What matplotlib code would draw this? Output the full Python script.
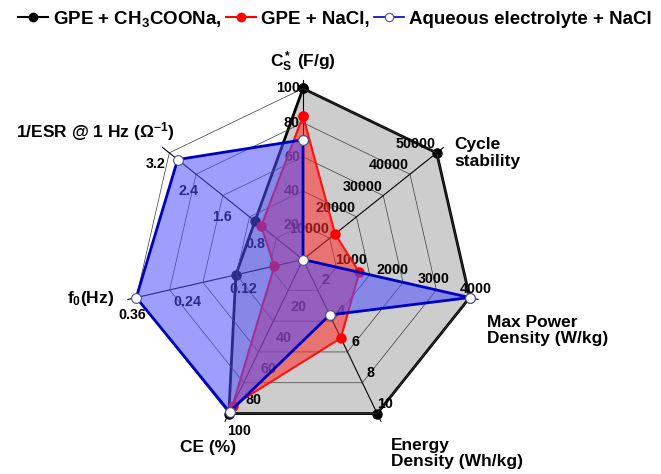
import numpy as np
import matplotlib as mpl
mpl.use('Agg')
import matplotlib.pyplot as plt
from matplotlib.lines import Line2D

plt.rcParams['font.family'] = ['Liberation Sans', 'DejaVu Sans']
plt.rcParams['font.weight'] = 'bold'
plt.rcParams['mathtext.fontset'] = 'custom'
plt.rcParams['mathtext.rm'] = 'Liberation Sans:bold'
plt.rcParams['mathtext.bf'] = 'Liberation Sans:bold'
plt.rcParams['mathtext.it'] = 'Liberation Sans:bold'
plt.rcParams['mathtext.default'] = 'bf'

# axes of the radar, clockwise from the top
axis_names = ['C$_S^*$ (F/g)', 'Cycle\nstability', 'Max Power\nDensity (W/kg)',
              'Energy\nDensity (Wh/kg)', 'CE (%)', 'f$_0$(Hz)',
              '1/ESR @ 1 Hz ($\\Omega^{-1}$)']
axis_max = [100, 50000, 4000, 10, 100, 0.36, 3.2]
axis_ticks = [[20, 40, 60, 80, 100],
              [10000, 20000, 30000, 40000, 50000],
              [1000, 2000, 3000, 4000],
              [2, 4, 6, 8, 10],
              [20, 40, 60, 80, 100],
              [0.12, 0.24, 0.36],
              [0.8, 1.6, 2.4, 3.2]]

gpe_acetate = [100, 50000, 4000, 10, 100, 0.145, 1.15]
gpe_nacl = [84, 12000, 1350, 5.1, 95, 0.062, 1.0]
aqueous_nacl = [70, 0, 4000, 3.6, 99, 0.36, 3.0]

labels = ['GPE + CH$_3$COONa,', 'GPE + NaCl,', 'Aqueous electrolyte + NaCl']

n = len(axis_names)
ang = np.deg2rad(90 - np.arange(n) * 360.0 / n)
cx, cy = np.cos(ang), np.sin(ang)


def to_xy(vals):
    f = np.array(vals, dtype=float) / np.array(axis_max, dtype=float)
    x = f * cx
    y = f * cy
    return np.append(x, x[0]), np.append(y, y[0])


fig = plt.figure(figsize=(6.61, 4.74), dpi=100)
ax = fig.add_axes([0, 0, 1, 1])
R = 171.0
ax.set_xlim(-303 / R, (661 - 303) / R)
ax.set_ylim(-(474 - 259.5) / R, 259.5 / R)
ax.axis('off')

# black series (gray fill) at the bottom
x, y = to_xy(gpe_acetate)
ax.fill(x, y, color='#cdcdcd', zorder=1)
ax.plot(x, y, color='black', lw=2, marker='o', ms=6.5, mfc='black', mec='black', zorder=2)

# polygon grid and spokes
for r in [0.2, 0.4, 0.6, 0.8, 1.0]:
    ax.plot(np.append(cx, cx[0]) * r, np.append(cy, cy[0]) * r,
            color='#3c3c3c', lw=0.5, zorder=3)
for k in range(n):
    ax.plot([0, 1.05 * cx[k]], [0, 1.05 * cy[k]], color='black', lw=0.8, zorder=3)

# tick labels, offsets in pixels
offs = [(-3, 0, 'right'), (-1, 9, 'right'), (6, 9, 'center'), (8, 10, 'center'),
        (10, -17, 'center'), (-4, -17, 'center'), (-14, -11, 'center')]
for k in range(n):
    for t in axis_ticks[k]:
        f = t / axis_max[k]
        dx, dy, ha = offs[k]
        ax.annotate('%g' % t, (f * cx[k], f * cy[k]), xytext=(dx, dy),
                    textcoords='offset pixels', ha=ha, va='center',
                    fontsize=10.3, fontweight='bold', zorder=4)

# red series
x, y = to_xy(gpe_nacl)
ax.fill(x, y, color=(1.0, 0.16, 0.16, 0.55), lw=0, zorder=5)
ax.plot(x, y, color='#ff1010', lw=1.5, marker='o', ms=6.5, mfc='red', mec='red', zorder=6)

# blue series on top
x, y = to_xy(aqueous_nacl)
ax.fill(x, y, color=(0.31, 0.31, 1.0, 0.55), lw=0, zorder=7)
ax.plot(x, y, color='#0000c0', lw=2, zorder=8)
ax.plot(x, y, ls='none', marker='o', ms=7, mfc='white', mec='#505080', mew=0.8, zorder=9)

# axis titles
toffs = [(0, 14, 'center', 'bottom'), (18, 0, 'left', 'center'),
         (17, -33, 'left', 'center'), (14, -40, 'left', 'center'),
         (-21, -34, 'center', 'center'), (-22, -1, 'right', 'center'),
         (5, 21, 'right', 'center')]
for k in range(n):
    dx, dy, ha, va = toffs[k]
    ax.annotate(axis_names[k], (cx[k], cy[k]), xytext=(dx, dy),
                textcoords='offset pixels', ha=ha, va=va, fontsize=12.5,
                fontweight='bold', linespacing=1.15)

handles = [Line2D([], [], color='black', lw=1.5, marker='o', ms=6, mfc='black', mec='black'),
           Line2D([], [], color='red', lw=1.5, marker='o', ms=6, mfc='red', mec='red'),
           Line2D([], [], color='#0000c0', lw=1.2, marker='o', ms=6, mfc='white', mec='#505080', mew=0.8)]
fig.legend(handles, labels, loc='center', bbox_to_anchor=(0.507, 1 - 19 / 474.0),
           ncol=3, frameon=False, handlelength=1.6, handletextpad=0.25,
           columnspacing=0.25, prop={'weight': 'bold', 'size': 13.5})

plt.savefig('out.png', dpi=100)
